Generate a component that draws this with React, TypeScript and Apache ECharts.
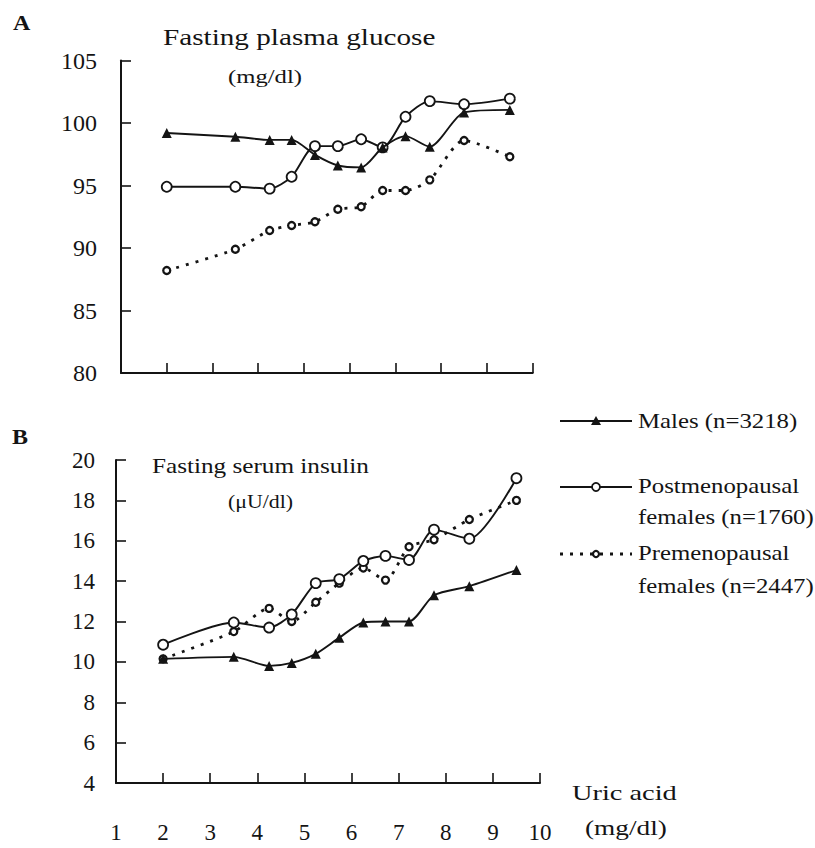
import React, { useEffect, useRef } from "react";
import * as echarts from "echarts";

// Uric acid (mg/dl) group positions on the x axis
const uricAcid = [2.0, 3.5, 4.25, 4.73, 5.24, 5.74, 6.25, 6.72, 7.22, 7.75, 8.5, 9.5];

// Panel A: fasting plasma glucose (mg/dl)
const glucoseMales = [99.2, 98.9, 98.65, 98.65, 97.45, 96.6, 96.45, 98.05, 98.95, 98.1, 100.85, 101.05];
const glucosePost = [94.9, 94.9, 94.75, 95.7, 98.15, 98.15, 98.7, 98.05, 100.5, 101.75, 101.5, 101.95];
const glucosePre = [88.2, 89.9, 91.4, 91.8, 92.1, 93.1, 93.3, 94.6, 94.6, 95.45, 98.6, 97.3];

// Panel B: fasting serum insulin (µU/dl)
const insulinMales = [10.15, 10.25, 9.8, 9.95, 10.4, 11.2, 11.95, 12.0, 12.0, 13.3, 13.75, 14.55];
const insulinPost = [10.85, 11.95, 11.7, 12.35, 13.9, 14.1, 15.0, 15.25, 15.05, 16.55, 16.1, 19.1];
const insulinPre = [10.15, 11.5, 12.65, 12.0, 12.95, 13.9, 14.65, 14.05, 15.7, 16.05, 17.05, 18.0];

const legendNames = ["Males (n=3218)", "Postmenopausal", "females (n=1760)", "Premenopausal", "females (n=2447)"];

const FONT = "Liberation Serif";
const INK = "#141414";

const pair = (ys: number[]) => uricAcid.map((x, i) => [x, ys[i]]);

function App() {
  const ref = useRef<HTMLDivElement>(null);
  useEffect(() => {
    if (!ref.current) return;
    const chart = echarts.init(ref.current, undefined, { renderer: "svg" });

    const axisCommon = {
      axisLine: { show: true, onZero: false, lineStyle: { color: INK, width: 2 } },
      axisTick: { show: true, inside: true, length: 10, lineStyle: { color: INK, width: 1.6 } },
      splitLine: { show: false },
    };

    const males = (xi: number, data: number[]) => ({
      type: "line",
      xAxisIndex: xi,
      yAxisIndex: xi,
      data: pair(data),
      smooth: 0.25,
      symbol: "triangle",
      symbolSize: 10,
      itemStyle: { color: INK },
      lineStyle: { color: INK, width: 1.9 },
      z: 4,
    });
    const post = (xi: number, data: number[]) => ({
      type: "line",
      xAxisIndex: xi,
      yAxisIndex: xi,
      data: pair(data),
      smooth: 0.25,
      symbol: "circle",
      symbolSize: 10,
      itemStyle: { color: "#fff", borderColor: INK, borderWidth: 1.8 },
      lineStyle: { color: INK, width: 1.9 },
      z: 3,
    });
    const pre = (xi: number, data: number[]) => ({
      type: "line",
      xAxisIndex: xi,
      yAxisIndex: xi,
      data: pair(data),
      smooth: 0.25,
      symbol: "circle",
      symbolSize: 7,
      itemStyle: { color: "#fff", borderColor: INK, borderWidth: 2.3 },
      lineStyle: { color: INK, width: 2.8, type: [3, 7] },
      z: 2,
    });

    const txt = (text: string, x: number, y: number, size: number, sx: number, extra: any = {}) => ({
      type: "text",
      x,
      y,
      scaleX: sx,
      style: {
        text,
        fontFamily: FONT,
        fontSize: size,
        fontWeight: extra.weight || "normal",
        fill: INK,
        textAlign: extra.align || "left",
        textVerticalAlign: "middle",
      },
    });

    const legendX0 = 560;
    const legendX1 = 632;
    const legendMid = 596;
    const ly = [421, 487, 554];

    chart.setOption({
      animation: false,
      backgroundColor: "#fff",
      grid: [
        { left: 121, top: 60.5, width: 411.7, height: 312.5 },
        { left: 116, top: 460, width: 424, height: 323 },
      ],
      xAxis: [
        {
          ...axisCommon,
          gridIndex: 0,
          type: "value",
          min: 1,
          max: 10,
          interval: 1,
          axisLabel: { show: false },
        },
        {
          ...axisCommon,
          gridIndex: 1,
          type: "value",
          min: 1,
          max: 10,
          interval: 1,
          axisLabel: { show: true, margin: 38, fontFamily: FONT, fontSize: 23, color: INK },
        },
      ],
      yAxis: [
        {
          ...axisCommon,
          gridIndex: 0,
          type: "value",
          min: 80,
          max: 105,
          interval: 5,
          axisLabel: { margin: 24, fontFamily: FONT, fontSize: 24, color: INK },
        },
        {
          ...axisCommon,
          gridIndex: 1,
          type: "value",
          min: 4,
          max: 20,
          interval: 2,
          axisLabel: { margin: 21, fontFamily: FONT, fontSize: 23, color: INK },
        },
      ],
      series: [
        pre(0, glucosePre),
        post(0, glucosePost),
        males(0, glucoseMales),
        pre(1, insulinPre),
        post(1, insulinPost),
        males(1, insulinMales),
      ],
      graphic: [
        txt("A", 13, 23, 20, 1.2, { weight: "bold" }),
        txt("B", 12, 437, 20, 1.2, { weight: "bold" }),
        txt("Fasting plasma glucose", 163, 38, 23, 1.27),
        txt("(mg/dl)", 228, 77, 19, 1.3),
        txt("Fasting serum insulin", 152, 466, 21, 1.2),
        txt("(\u03bcU/dl)", 228, 502, 19, 1.15),
        txt("Uric acid", 572, 792, 22, 1.29),
        txt("(mg/dl)", 585, 828, 21, 1.3),
        // legend
        { type: "line", shape: { x1: legendX0, y1: ly[0], x2: legendX1, y2: ly[0] }, style: { stroke: INK, lineWidth: 1.8 } },
        {
          type: "polygon",
          shape: { points: [[legendMid, ly[0] - 5], [legendMid - 5, ly[0] + 4], [legendMid + 5, ly[0] + 4]] },
          style: { fill: INK },
        },
        { type: "line", shape: { x1: legendX0, y1: ly[1], x2: legendX1, y2: ly[1] }, style: { stroke: INK, lineWidth: 1.8 } },
        { type: "circle", shape: { cx: legendMid, cy: ly[1], r: 4 }, style: { fill: "#fff", stroke: INK, lineWidth: 1.8 } },
        {
          type: "line",
          shape: { x1: legendX0, y1: ly[2], x2: legendX1, y2: ly[2] },
          style: { stroke: INK, lineWidth: 2.8, lineDash: [3, 7] },
        },
        { type: "circle", shape: { cx: legendMid, cy: ly[2], r: 3 }, style: { fill: "#fff", stroke: INK, lineWidth: 2.2 } },
        txt(legendNames[0], 638, 421, 20, 1.24),
        txt(legendNames[1], 638, 486, 20, 1.24),
        txt(legendNames[2], 638, 517, 20, 1.24),
        txt(legendNames[3], 638, 553, 20, 1.24),
        txt(legendNames[4], 638, 586, 20, 1.24),
      ],
    });

    return () => chart.dispose();
  }, []);

  return (
    <div
      ref={ref}
      style={{ position: "fixed", left: 0, top: 0, width: 815, height: 848, background: "#fff" }}
    />
  );
}

export default App;
